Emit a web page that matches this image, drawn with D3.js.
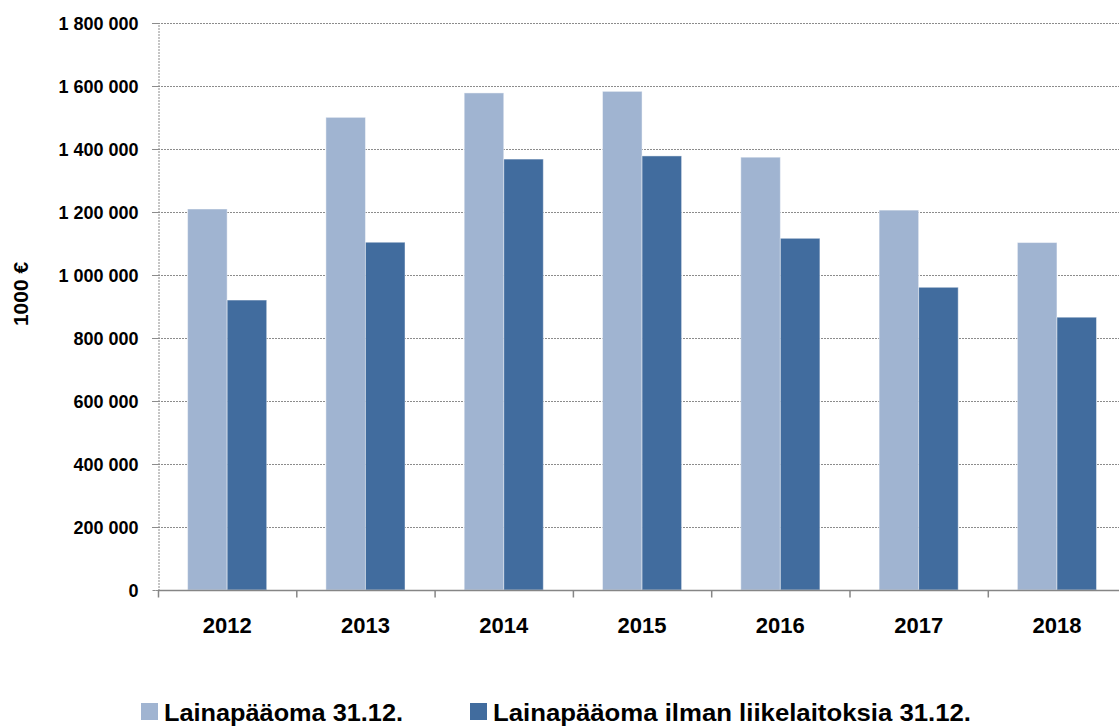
<!DOCTYPE html>
<html>
<head>
<meta charset="utf-8">
<script src="https://cdn.jsdelivr.net/npm/d3@7"></script>
<style>
  body { margin: 0; background: #fff; }
  svg text { font-family: "Liberation Sans", Arial, sans-serif; font-weight: bold; fill: #000; }
</style>
</head>
<body>
<svg width="1119" height="727"></svg>
<script>
let years = ["2012", "2013", "2014", "2015", "2016", "2017", "2018"];
let seriesNames = ["Lainapääoma 31.12.", "Lainapääoma ilman liikelaitoksia 31.12."];
let lainapaaoma = [1209500, 1500500, 1578000, 1583000, 1374000, 1206000, 1103000];
let ilmanLiikelaitoksia = [920500, 1104000, 1368000, 1378000, 1116500, 961000, 866000];
let yTicks = [0, 200000, 400000, 600000, 800000, 1000000, 1200000, 1400000, 1600000, 1800000];
let colors = ["#a0b4d1", "#416c9e"];

let width = 1119;
let height = 727;
let plotLeft = 158;
let plotTop = 23;
let plotBottom = 590;
let band = 138.3;
let svg = d3.select("svg");

let rows = years.map((y, i) => ({ year: y, values: [lainapaaoma[i], ilmanLiikelaitoksia[i]] }));

let xScale = d3.scaleBand().domain(years).range([plotLeft, plotLeft + band * years.length]).padding(0);
let xSub = d3.scaleBand().domain([0, 1])
  .range([xScale.bandwidth() * 0.214, xScale.bandwidth() * 0.786]);
let yScale = d3.scaleLinear().domain([0, 1800000]).range([plotBottom, plotTop]);

let fmt = (v) => d3.format(",")(v).replace(/,/g, " ");

// gridlines
svg.append("g")
  .selectAll("line")
  .data(yTicks.filter((d) => d > 0))
  .enter()
  .append("line")
  .attr("x1", plotLeft - 6)
  .attr("x2", width)
  .attr("y1", (d) => yScale(d) + 0.5)
  .attr("y2", (d) => yScale(d) + 0.5)
  .attr("stroke", "#8c8c8c")
  .attr("stroke-width", 1)
  .attr("stroke-dasharray", "2,1");

// y axis
let yAxis = d3.axisLeft(yScale).tickValues(yTicks).tickFormat(fmt).tickSize(6).tickPadding(14);
let yG = svg.append("g").attr("transform", `translate(${plotLeft + 0.5}, 0)`).call(yAxis);
yG.select(".domain").attr("stroke", "#8c8c8c").attr("stroke-dasharray", "2,1");
yG.selectAll(".tick line").attr("stroke", "#8c8c8c").attr("stroke-dasharray", "2,1");
yG.selectAll(".tick text").style("font-size", "18px").attr("dy", "0.35em");

// bars
svg.append("g")
  .selectAll("g")
  .data(rows)
  .enter()
  .append("g")
  .attr("transform", (d) => `translate(${xScale(d.year)}, 0)`)
  .selectAll("rect")
  .data((d) => d.values)
  .enter()
  .append("rect")
  .attr("x", (d, i) => xSub(i))
  .attr("width", xSub.bandwidth())
  .attr("y", (d) => yScale(d))
  .attr("height", (d) => plotBottom - yScale(d))
  .attr("fill", (d, i) => colors[i])
  .attr("stroke", "#ffffff")
  .attr("stroke-opacity", 0.45)
  .attr("stroke-width", 1);

// x axis
let xG = svg.append("g").attr("transform", `translate(0, ${plotBottom + 0.5})`);
xG.append("line")
  .attr("x1", plotLeft)
  .attr("x2", width)
  .attr("stroke", "#868686")
  .attr("stroke-width", 1.5);
xG.selectAll(".xtick")
  .data(years)
  .enter()
  .append("line")
  .attr("x1", (d) => xScale(d) + 0.5)
  .attr("x2", (d) => xScale(d) + 0.5)
  .attr("y1", 0)
  .attr("y2", 7)
  .attr("stroke", "#868686")
  .attr("stroke-width", 1.5);
xG.selectAll(".xlabel")
  .data(years)
  .enter()
  .append("text")
  .attr("x", (d) => xScale(d) + xScale.bandwidth() / 2)
  .attr("y", 42)
  .attr("text-anchor", "middle")
  .style("font-size", "22px")
  .text((d) => d);

// axis title
svg.append("text")
  .attr("transform", "translate(28, 294) rotate(-90)")
  .attr("text-anchor", "middle")
  .style("font-size", "21px")
  .text("1000 €");

// legend
let legendX = [141, 470];
let legendW = [239, 478];
let legend = svg.append("g").selectAll("g")
  .data(seriesNames)
  .enter()
  .append("g")
  .attr("transform", (d, i) => `translate(${legendX[i]}, 703)`);
legend.append("rect")
  .attr("width", 17)
  .attr("height", 17)
  .attr("fill", (d, i) => colors[i]);
legend.append("text")
  .attr("x", 23)
  .attr("y", 18)
  .attr("textLength", (d, i) => legendW[i])
  .attr("lengthAdjust", "spacingAndGlyphs")
  .style("font-size", "24px")
  .text((d) => d);
</script>
</body>
</html>
